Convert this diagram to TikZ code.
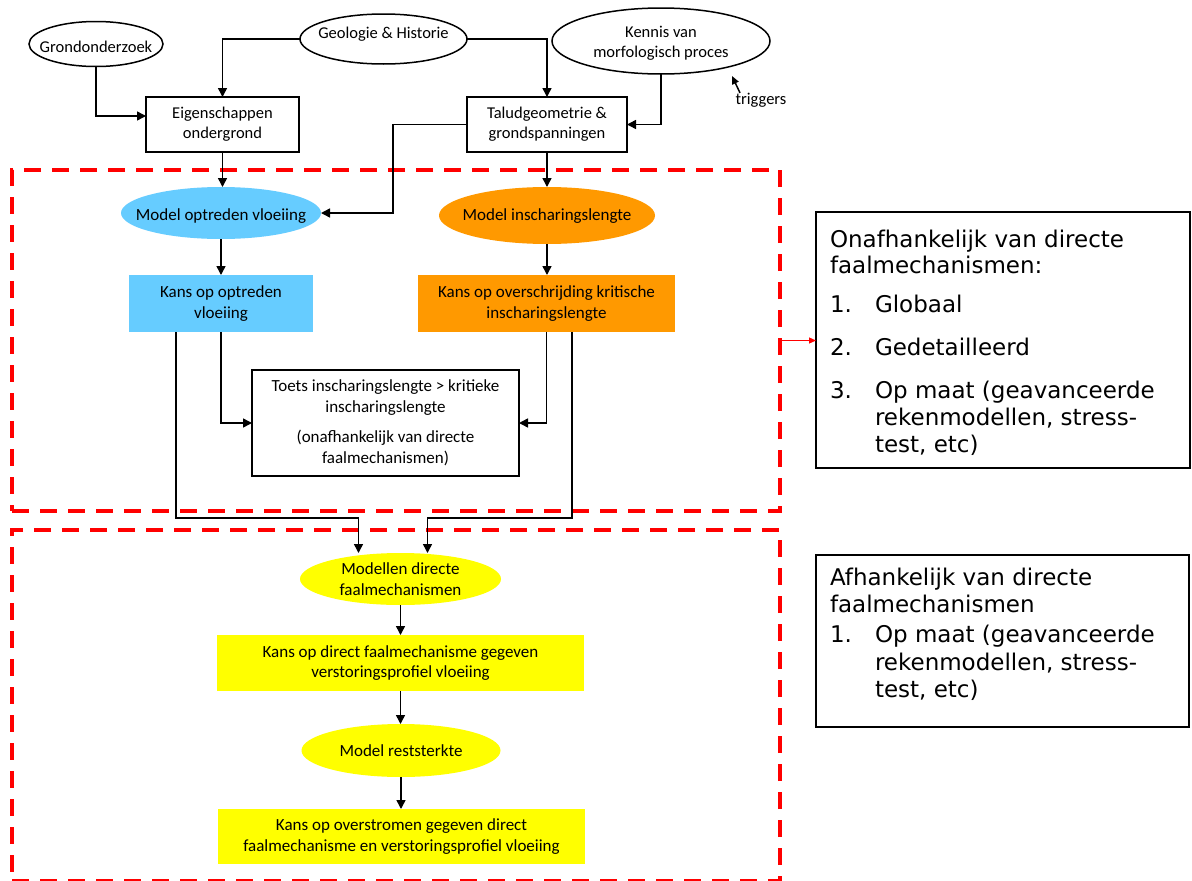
\documentclass[tikz,border=0pt]{standalone}
\usepackage{fontspec}
\setmainfont{Carlito}
\newfontfamily\verdfont{DejaVu Sans}
\usetikzlibrary{shapes.geometric,arrows.meta,calc}
\definecolor{lblue}{RGB}{102,204,255}
\definecolor{orng}{RGB}{255,153,0}
\definecolor{yel}{RGB}{255,255,0}
\definecolor{dred}{RGB}{255,0,0}
\begin{document}
\begin{tikzpicture}[x=1pt,y=-1pt,
  every node/.style={inner sep=0pt, outer sep=0pt},
  tfont/.style={font=\fontsize{16.5}{20}\selectfont, align=center},
  mfont/.style={font=\fontsize{17}{20.5}\selectfont, align=center},
  oell/.style={ellipse, draw, line width=1.5pt},
  obox/.style={rectangle, draw, line width=1.5pt, tfont},
  cell/.style={ellipse},
  cbox/.style={rectangle, mfont},
  arr/.style={line width=1.5pt, -{Triangle[length=9pt,width=9pt]}},
  dbox/.style={rectangle, draw=dred, line width=4.5pt, dash pattern=on 17pt off 11pt},
  rbox/.style={rectangle, draw, line width=1.5pt},
  rtext/.style={anchor=base west, font=\verdfont\fontsize{23}{27}\selectfont},
]
\useasboundingbox[fill=white] (0,0) rectangle (1192,881);

% dashed groups
\node[dbox, minimum width=768pt, minimum height=341pt] (db1) at (396,340.5) {};
\node[dbox, minimum width=768pt, minimum height=351pt] (db2) at (396,705.5) {};

% top inputs
\node[oell, minimum width=134pt, minimum height=45pt] (gro) at (96,44) {};
\node[tfont] (grot) at ([yshift=-3pt]gro) {Grondonderzoek};
\node[oell, minimum width=167pt, minimum height=50pt] (geo) at (383.5,39) {};
\node[tfont] (geot) at ([yshift=5pt]geo) {Geologie \& Historie};
\node[oell, minimum width=218pt, minimum height=66pt] (ken) at (661,41) {};
\node[tfont] (kent) at ([yshift=-2pt]ken) {Kennis van\\morfologisch proces};
\node[font=\fontsize{16.5}{20}\selectfont] (trg) at (761,100) {triggers};
\coordinate (trh) at (732,76);

\node[obox, minimum width=153pt, minimum height=55pt] (eig) at (222.5,124.5) {Eigenschappen\\ondergrond};
\node[obox, minimum width=160pt, minimum height=55pt] (tal) at (547,124.5) {Taludgeometrie \&\\grondspanningen};

% upper group
\node[cell, fill=lblue, minimum width=200pt, minimum height=52pt] (mov) at (221,213) {};
\node[mfont] (movt) at ([yshift=-3pt]mov) {Model optreden vloeiing};
\node[cell, fill=orng, minimum width=216pt, minimum height=57pt] (mis) at (547,215.5) {};
\node[mfont] (mist) at ([yshift=-1pt]mis) {Model inscharingslengte};
\node[cbox, fill=lblue, minimum width=184pt, minimum height=57pt] (kov) at (221,303.5) {Kans op optreden\\vloeiing};
\node[cbox, fill=orng, minimum width=257pt, minimum height=57pt] (kex) at (546.5,303.5) {Kans op overschrijding kritische\\inscharingslengte};
\node[cbox, draw, line width=1.5pt, minimum width=267pt, minimum height=106pt] (toe) at (385.5,423)
  {Toets inscharingslengte > kritieke\\inscharingslengte\\[10pt](onafhankelijk van directe\\faalmechanismen)};

% lower group
\node[cell, fill=yel, minimum width=201pt, minimum height=52pt] (mod) at (400.5,579) {};
\node[mfont] (modt) at (mod) {Modellen directe\\faalmechanismen};
\node[cbox, fill=yel, minimum width=367pt, minimum height=56pt] (kd) at (400.5,663) {Kans op direct faalmechanisme gegeven\\verstoringsprofiel vloeiing};
\node[cell, fill=yel, minimum width=199pt, minimum height=53pt] (mr) at (401,750.5) {};
\node[mfont] (mrt) at (mr) {Model reststerkte};
\node[cbox, fill=yel, minimum width=367pt, minimum height=55pt] (ko) at (401.5,836.5) {Kans op overstromen gegeven direct\\faalmechanisme en verstoringsprofiel vloeiing};

% right boxes
\node[rbox, minimum width=374pt, minimum height=256pt] (rb1) at (1003,340) {};
\node[rtext] (r1a) at (830,247) {Onafhankelijk van directe};
\node[rtext] (r1b) at (830,273) {faalmechanismen:};
\node[rtext] (r1c) at (830,312) {1.};
\node[rtext] (r1d) at (875,312) {Globaal};
\node[rtext] (r1e) at (830,355) {2.};
\node[rtext] (r1f) at (875,355) {Gedetailleerd};
\node[rtext] (r1g) at (830,398) {3.};
\node[rtext] (r1h) at (875,398) {Op maat (geavanceerde};
\node[rtext] (r1i) at (875,425) {rekenmodellen, stress-};
\node[rtext] (r1j) at (875,452) {test, etc)};

\node[rbox, minimum width=373pt, minimum height=172pt] (rb2) at (1002.5,641) {};
\node[rtext] (r2a) at (830,585) {Afhankelijk van directe};
\node[rtext] (r2b) at (830,612) {faalmechanismen};
\node[rtext] (r2c) at (830,642) {1.};
\node[rtext] (r2d) at (875,642) {Op maat (geavanceerde};
\node[rtext] (r2e) at (875,670) {rekenmodellen, stress-};
\node[rtext] (r2f) at (875,697) {test, etc)};

% connectors
\draw[arr] (gro.south) |- ([yshift=8.5pt]eig.west);
\draw[arr] (geo.west) -| (eig.north);
\draw[arr] (geo.east) -| (tal.north);
\draw[arr] (ken.south) |- (tal.east);
\draw[line width=1.5pt, -{Triangle[length=8pt,width=7pt]}] ([xshift=-21pt]trg.north) -- (trh);
\draw[arr] (tal.west) -| ($(mov.east)+(72,0)$) -- (mov.east);
\draw[arr] (eig.south) -- (eig.south |- mov.north);
\draw[arr] (tal.south) -- (tal.south |- mis.north);
\draw[arr] (mov.south) -- (mov.south |- kov.north);
\draw[arr] (mis.south) -- (mis.south |- kex.north);
\draw[arr] (kov.south) |- (toe.west);
\draw[arr] (kex.south) |- (toe.east);
\draw[arr] ([xshift=-45pt]kov.south) -- ++(0,186) -| ([xshift=-42pt]mod.north);
\draw[arr] ([xshift=25.5pt]kex.south) -- ++(0,186) -| ([xshift=27pt]mod.north);
\draw[arr] (mod.south) -- (mod.south |- kd.north);
\draw[arr] (kd.south) -- (kd.south |- mr.north);
\draw[arr] (mr.south) -- (mr.south |- ko.north);
\draw[dred, line width=1.2pt, -{Triangle[length=7pt,width=6pt]}] (db1.east) -- (db1.east -| rb1.west);
\end{tikzpicture}
\end{document}
